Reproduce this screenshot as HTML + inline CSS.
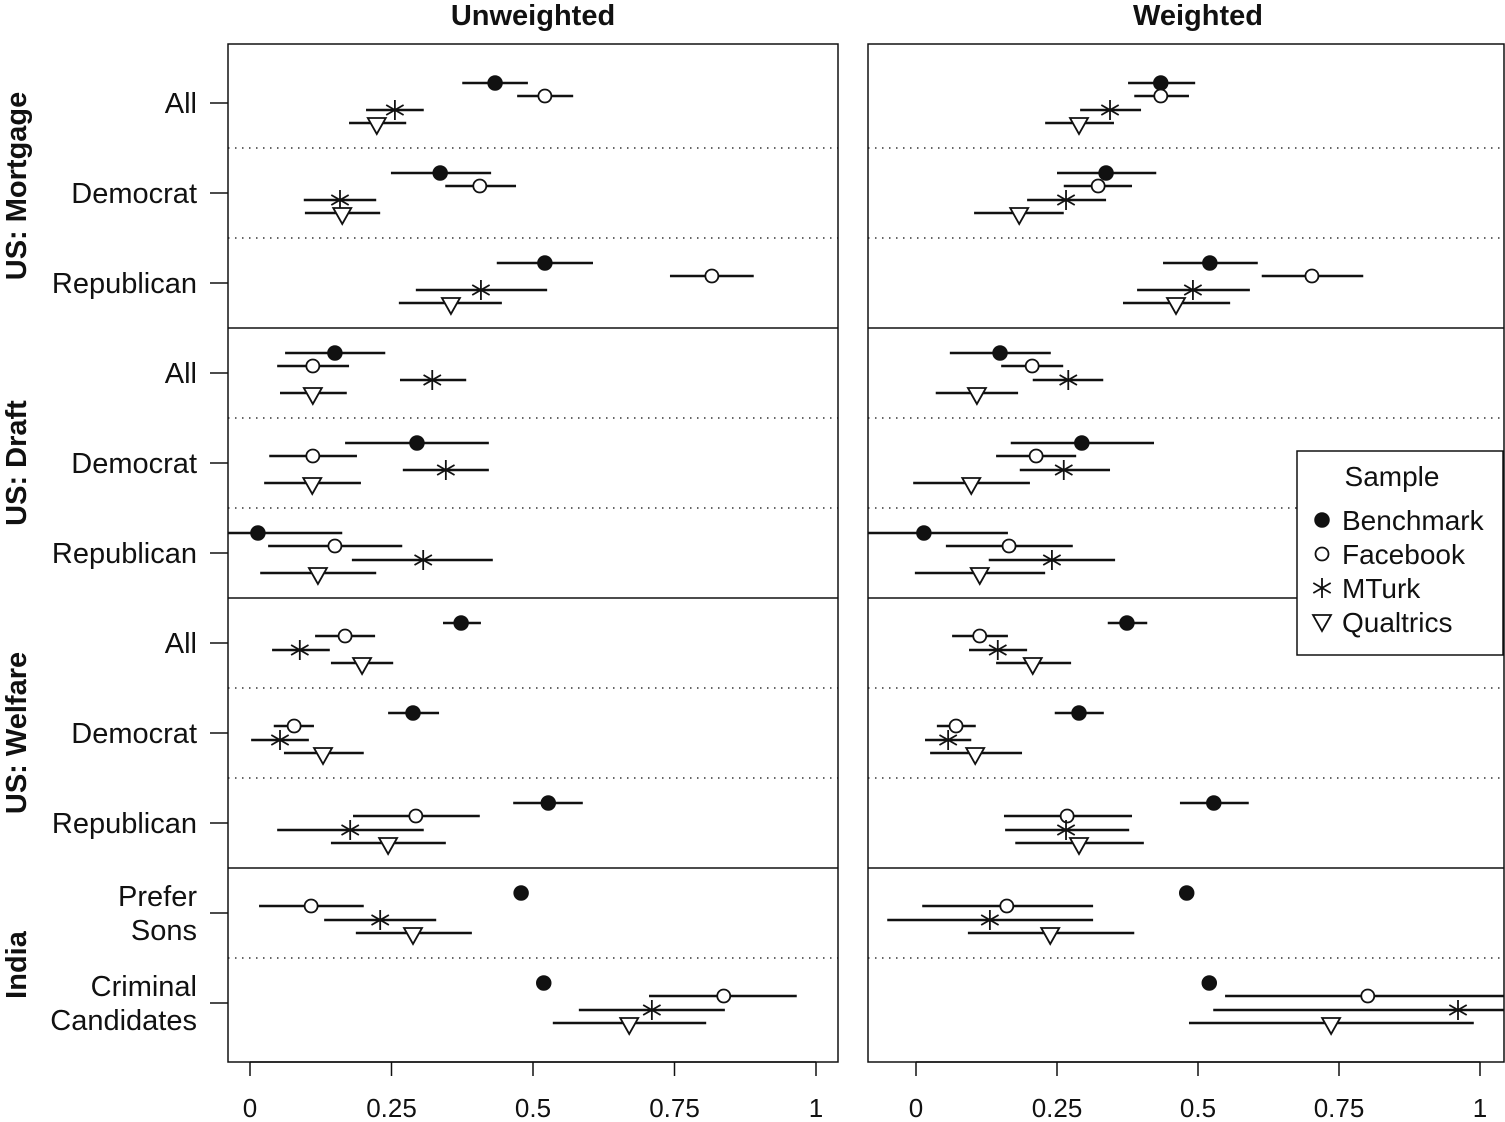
<!DOCTYPE html>
<html><head><meta charset="utf-8"><style>
body{margin:0;background:#fff}
svg{display:block;font-family:"Liberation Sans",Arial,sans-serif}
</style></head><body>
<svg id="c" width="1505" height="1122" viewBox="0 0 1505 1122" xmlns="http://www.w3.org/2000/svg"></svg>
<script>
const rowLabels = [["All"],["Democrat"],["Republican"],["All"],["Democrat"],["Republican"],["All"],["Democrat"],["Republican"],["Prefer","Sons"],["Criminal","Candidates"]];
const sections = ["US: Mortgage","US: Draft","US: Welfare","India"];
const seriesNames = ["Benchmark","Facebook","MTurk","Qualtrics"];
const tickLabels = ["0","0.25","0.5","0.75","1"];
const tickValues = [0,0.25,0.5,0.75,1];
const unweighted = [
 [[0.433,0.375,0.491],[0.521,0.472,0.571],[0.256,0.205,0.307],[0.224,0.175,0.276]],
 [[0.336,0.249,0.426],[0.406,0.345,0.470],[0.159,0.095,0.223],[0.163,0.097,0.230]],
 [[0.521,0.436,0.606],[0.816,0.742,0.890],[0.408,0.293,0.525],[0.355,0.263,0.445]],
 [[0.150,0.062,0.239],[0.111,0.048,0.175],[0.322,0.265,0.382],[0.111,0.053,0.171]],
 [[0.295,0.168,0.422],[0.111,0.034,0.189],[0.346,0.270,0.422],[0.110,0.025,0.196]],
 [[0.014,-0.06,0.163],[0.150,0.032,0.269],[0.306,0.180,0.429],[0.120,0.018,0.223]],
 [[0.373,0.341,0.408],[0.168,0.115,0.221],[0.088,0.039,0.141],[0.198,0.143,0.253]],
 [[0.288,0.244,0.334],[0.078,0.042,0.113],[0.053,0.002,0.104],[0.129,0.060,0.201]],
 [[0.527,0.465,0.588],[0.293,0.182,0.406],[0.177,0.048,0.307],[0.244,0.143,0.346]],
 [[0.479,null,null],[0.108,0.016,0.201],[0.230,0.131,0.329],[0.288,0.187,0.392]],
 [[0.519,null,null],[0.837,0.705,0.966],[0.710,0.581,0.839],[0.670,0.535,0.806]]
];
const weighted = [
 [[0.434,0.376,0.495],[0.434,0.387,0.484],[0.344,0.291,0.399],[0.289,0.229,0.351]],
 [[0.337,0.250,0.426],[0.323,0.262,0.383],[0.266,0.197,0.337],[0.183,0.103,0.262]],
 [[0.521,0.438,0.606],[0.702,0.613,0.793],[0.491,0.392,0.592],[0.461,0.367,0.557]],
 [[0.149,0.060,0.239],[0.206,0.151,0.261],[0.270,0.207,0.332],[0.108,0.035,0.181]],
 [[0.294,0.168,0.422],[0.213,0.142,0.284],[0.262,0.184,0.344],[0.098,-0.005,0.202]],
 [[0.014,-0.09,0.163],[0.165,0.053,0.278],[0.241,0.129,0.353],[0.113,-0.002,0.229]],
 [[0.374,0.340,0.410],[0.113,0.064,0.163],[0.145,0.094,0.197],[0.207,0.142,0.275]],
 [[0.289,0.246,0.333],[0.071,0.037,0.106],[0.057,0.016,0.098],[0.105,0.025,0.188]],
 [[0.528,0.468,0.590],[0.268,0.156,0.383],[0.266,0.158,0.378],[0.289,0.176,0.404]],
 [[0.480,null,null],[0.161,0.011,0.314],[0.131,-0.051,0.314],[0.238,0.092,0.387]],
 [[0.520,null,null],[0.801,0.548,1.1],[0.961,0.527,1.1],[0.736,0.484,0.989]]
];
const NS="http://www.w3.org/2000/svg";
const svg=document.getElementById('c');
function el(t,a,p){const e=document.createElementNS(NS,t);for(const k in a)e.setAttribute(k,a[k]);(p||svg).appendChild(e);return e;}
const rowCenters=[103,193,283,373,463,553,643,733,823,913,1003];
const offsets=[-20,-7,7,20];
const secBounds=[[44,328],[328,598],[598,868],[868,1062]];
function marker(g,type,x,y){
 if(type===0){const m=el('circle',{cx:x,cy:y,r:7,fill:'#111',stroke:'#111','stroke-width':1.5},g);}
 else if(type===1){const m=el('circle',{cx:x,cy:y,r:6.5,fill:'#fff',stroke:'#111','stroke-width':1.8},g);}
 else if(type===2){const m=el('path',{d:`M${x} ${y-10}V${y+10}M${x-8.7} ${y-5}L${x+8.7} ${y+5}M${x-8.7} ${y+5}L${x+8.7} ${y-5}`,stroke:'#111','stroke-width':1.8,fill:'none'},g);}
 else {const m=el('path',{d:`M${x-9} ${y-5}L${x+9} ${y-5}L${x} ${y+11}Z`,fill:'#fff',stroke:'#111','stroke-width':1.8},g);}
}
function panel(x0,x1,z,one,data,title,showLabels,name){
 const g=el('g',{});
 
 
 const sx=v=>z+(one-z)*v;
 const clip='clip-'+name;
 const cp=el('clipPath',{id:clip},g);el('rect',{x:x0,y:44,width:x1-x0,height:1018},cp);
 const t=el('text',{x:(z+one)/2,y:25,'text-anchor':'middle','font-size':29,'font-weight':'bold',fill:'#111'},g);t.textContent=title;
 
 [148,238,418,508,688,778,958].forEach(y=>{const l=el('line',{x1:x0,x2:x1,y1:y,y2:y,stroke:'#333','stroke-width':1.5,'stroke-dasharray':'1.5 5.5'},g);});
 [328,598,868].forEach(y=>{const l=el('line',{x1:x0,x2:x1,y1:y,y2:y,stroke:'#111','stroke-width':1.5},g);});
 const pg=el('g',{'clip-path':`url(#${clip})`},g);
 data.forEach((row,ri)=>{row.forEach((d,si)=>{const y=rowCenters[ri]+offsets[si];
  if(d[1]!==null){const l=el('line',{x1:sx(d[1]),x2:sx(d[2]),y1:y,y2:y,stroke:'#111','stroke-width':2.5},pg);}
  marker(pg,si,sx(d[0]),y);});});
 const fr=el('rect',{x:x0,y:44,width:x1-x0,height:1018,fill:'none',stroke:'#111','stroke-width':1.5},g);
 
 tickValues.forEach((v,i)=>{const x=sx(v);el('line',{x1:x,x2:x,y1:1062,y2:1076,stroke:'#111','stroke-width':1.5},g);
  const tt=el('text',{x:x,y:1117,'text-anchor':'middle','font-size':26,fill:'#111'},g);tt.textContent=tickLabels[i];
  });
 el('line',{x1:sx(0),x2:sx(1),y1:1062,y2:1062,stroke:'#111','stroke-width':1.5},g);
 if(showLabels){
  rowCenters.forEach((y,ri)=>{el('line',{x1:210,x2:x0,y1:y,y2:y,stroke:'#111','stroke-width':1.5},g);
   const lb=rowLabels[ri];
   lb.forEach((s,k)=>{const tt=el('text',{x:197,y:y+10+(lb.length===2?(k===0?-17:17):0),'text-anchor':'end','font-size':29,fill:'#111'},g);tt.textContent=s;
    });});
  sections.forEach((s,i)=>{const cy=(secBounds[i][0]+secBounds[i][1])/2;
   const tt=el('text',{x:0,y:0,transform:`translate(26,${cy}) rotate(-90)`,'text-anchor':'middle','font-size':29,'font-weight':'bold',fill:'#111'},g);tt.textContent=s;
   });
 }
}
panel(228,838,250,816,unweighted,"Unweighted",true,"unweighted-panel");
panel(868,1504,916,1480,weighted,"Weighted",false,"weighted-panel");
const lg=el('g',{});


el('rect',{x:1297,y:451,width:206,height:204,fill:'#fff',stroke:'#111','stroke-width':1.5},lg);
const lt=el('text',{x:1392,y:486,'text-anchor':'middle','font-size':28,fill:'#111'},lg);lt.textContent="Sample";
seriesNames.forEach((s,i)=>{const y=520+34*i;marker(lg,i,1322,i===3?y-2:y);
 const tt=el('text',{x:1342,y:y+10,'font-size':28,fill:'#111'},lg);tt.textContent=s;
 });
</script>
</body></html>
